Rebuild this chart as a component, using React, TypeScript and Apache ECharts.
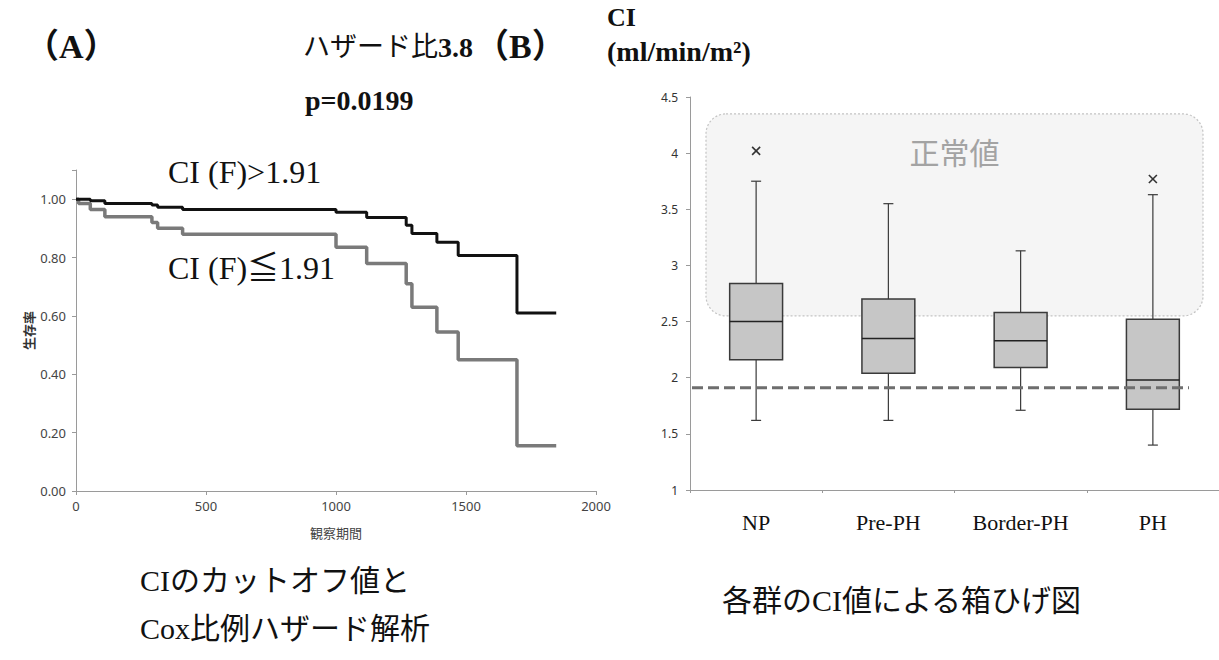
import { useEffect, useRef } from "react";
import * as echarts from "echarts";

// (A) Kaplan-Meier survival by CI cut-off
const timeTicks = [0, 500, 1000, 1500, 2000];
const highGroupTime = [0, 55, 111, 292, 314, 410, 1000, 1118, 1270, 1292, 1388, 1470, 1696, 1847];
const highGroupSurvival = [1.0, 0.995, 0.985, 0.98, 0.972, 0.965, 0.955, 0.937, 0.911, 0.882, 0.852, 0.807, 0.61, 0.61];
const lowGroupTime = [0, 10, 55, 111, 292, 314, 410, 1000, 1118, 1270, 1292, 1388, 1470, 1696, 1847];
const lowGroupSurvival = [1.0, 0.985, 0.965, 0.94, 0.92, 0.9, 0.88, 0.835, 0.78, 0.71, 0.63, 0.545, 0.45, 0.155, 0.155];

// (B) CI box plot by group
const groups = ["NP", "Pre-PH", "Border-PH", "PH"];
const whiskerLow = [1.62, 1.62, 1.71, 1.4];
const quartile1 = [2.16, 2.04, 2.09, 1.72];
const medians = [2.5, 2.35, 2.33, 1.98];
const quartile3 = [2.84, 2.7, 2.58, 2.52];
const whiskerHigh = [3.75, 3.55, 3.13, 3.63];
const outlierGroup = [0, 3];
const outlierValue = [4.02, 3.77];
const cutoff = 1.91;
const normalBand = [2.55, 4.35];
const ciTicks = [1, 1.5, 2, 2.5, 3, 3.5, 4, 4.5];

const GRID_A = { left: 76, top: 170, width: 520, height: 321 };
const GRID_B = { left: 690, top: 97, width: 529, height: 393 };

const SERIF = '"Liberation Serif", "Noto Sans CJK JP", serif';
const SANS = '"Noto Sans", "Noto Sans CJK JP", sans-serif';

export default function App() {
  const ref = useRef<HTMLDivElement>(null);

  useEffect(() => {
    if (!ref.current) return;
    const chart = echarts.init(ref.current, undefined, { renderer: "svg" });

    const highData = highGroupTime.map((t, i) => [t, highGroupSurvival[i]]);
    const lowData = lowGroupTime.map((t, i) => [t, lowGroupSurvival[i]]);
    const boxData = groups.map((_, i) => [i, whiskerLow[i], quartile1[i], medians[i], quartile3[i], whiskerHigh[i]]);
    const outlierData = outlierGroup.map((g, i) => [g, outlierValue[i]]);

    const axisGray = "#9a9a9a";
    const boxStroke = "#3a3a3a";

    chart.setOption({
      animation: false,
      backgroundColor: "#ffffff",
      grid: [
        { ...GRID_A, containLabel: false },
        { ...GRID_B, containLabel: false },
      ],
      xAxis: [
        {
          type: "value",
          gridIndex: 0,
          min: timeTicks[0],
          max: timeTicks[timeTicks.length - 1],
          interval: 500,
          axisLine: { show: true, lineStyle: { color: axisGray, width: 1 } },
          axisTick: { show: true, length: 4, lineStyle: { color: axisGray } },
          axisLabel: { color: "#444", fontSize: 13, fontFamily: SANS, margin: 8, formatter: (v: number) => String(v) },
          splitLine: { show: false },
          name: "観察期間",
          nameLocation: "middle",
          nameGap: 35,
          nameTextStyle: { color: "#444", fontSize: 13, fontFamily: SANS },
        },
        {
          type: "category",
          gridIndex: 1,
          data: groups,
          boundaryGap: true,
          axisLine: { show: true, lineStyle: { color: axisGray, width: 1 } },
          axisTick: { show: true, length: 3, lineStyle: { color: axisGray } },
          axisLabel: { color: "#111", fontSize: 22, fontFamily: SERIF, margin: 21 },
          splitLine: { show: false },
        },
      ],
      yAxis: [
        {
          type: "value",
          gridIndex: 0,
          min: 0,
          max: 1.1,
          interval: 0.2,
          axisLine: { show: true, lineStyle: { color: axisGray, width: 1 } },
          axisTick: { show: true, length: 4, lineStyle: { color: axisGray } },
          axisLabel: {
            color: "#444",
            fontSize: 13,
            fontFamily: SANS,
            margin: 10,
            formatter: (v: number) => (v > 1.001 ? "" : v.toFixed(2)),
          },
          splitLine: { show: false },
          name: "生存率",
          nameLocation: "middle",
          nameGap: 41,
          nameRotate: 90,
          nameTextStyle: { color: "#333", fontSize: 13, fontWeight: "bold", fontFamily: SANS },
        },
        {
          type: "value",
          gridIndex: 1,
          min: ciTicks[0],
          max: ciTicks[ciTicks.length - 1],
          interval: 0.5,
          axisLine: { show: true, lineStyle: { color: axisGray, width: 1 } },
          axisTick: { show: true, length: 4, lineStyle: { color: axisGray } },
          axisLabel: { color: "#333", fontSize: 12, fontFamily: SANS, margin: 12, formatter: (v: number) => String(v) },
          splitLine: { show: false },
        },
      ],
      series: [
        {
          name: "CI (F)>1.91",
          type: "line",
          xAxisIndex: 0,
          yAxisIndex: 0,
          step: "end",
          symbol: "none",
          data: highData,
          lineStyle: { color: "#111111", width: 3 },
          z: 4,
        },
        {
          name: "CI (F)≦1.91",
          type: "line",
          xAxisIndex: 0,
          yAxisIndex: 0,
          step: "end",
          symbol: "none",
          data: lowData,
          lineStyle: { color: "#7a7a7a", width: 3.5 },
          z: 3,
        },
        {
          name: "CI",
          type: "custom",
          xAxisIndex: 1,
          yAxisIndex: 1,
          data: boxData,
          encode: { x: 0, y: [1, 2, 3, 4, 5] },
          z: 3,
          renderItem: (_params: any, api: any) => {
            const idx = api.value(0);
            const bw = api.size([1, 0])[0] * 0.4;
            const cap = 5;
            const lo = api.coord([idx, api.value(1)]);
            const q1 = api.coord([idx, api.value(2)]);
            const md = api.coord([idx, api.value(3)]);
            const q3 = api.coord([idx, api.value(4)]);
            const hi = api.coord([idx, api.value(5)]);
            const cx = md[0];
            const ln = { stroke: boxStroke, lineWidth: 1.2 };
            return {
              type: "group",
              children: [
                { type: "line", shape: { x1: cx, y1: hi[1], x2: cx, y2: q3[1] }, style: ln },
                { type: "line", shape: { x1: cx, y1: q1[1], x2: cx, y2: lo[1] }, style: ln },
                { type: "line", shape: { x1: cx - cap, y1: hi[1], x2: cx + cap, y2: hi[1] }, style: ln },
                { type: "line", shape: { x1: cx - cap, y1: lo[1], x2: cx + cap, y2: lo[1] }, style: ln },
                {
                  type: "rect",
                  shape: { x: cx - bw / 2, y: q3[1], width: bw, height: q1[1] - q3[1] },
                  style: { fill: "#c6c6c6", stroke: boxStroke, lineWidth: 1.5 },
                },
                { type: "line", shape: { x1: cx - bw / 2, y1: md[1], x2: cx + bw / 2, y2: md[1] }, style: { stroke: "#222", lineWidth: 1.5 } },
              ],
            };
          },
        },
        {
          name: "外れ値",
          type: "custom",
          xAxisIndex: 1,
          yAxisIndex: 1,
          data: outlierData,
          encode: { x: 0, y: 1 },
          z: 4,
          renderItem: (_params: any, api: any) => {
            const p = api.coord([api.value(0), api.value(1)]);
            const s = 4;
            const st = { stroke: "#333", lineWidth: 1.6 };
            return {
              type: "group",
              children: [
                { type: "line", shape: { x1: p[0] - s, y1: p[1] - s, x2: p[0] + s, y2: p[1] + s }, style: st },
                { type: "line", shape: { x1: p[0] - s, y1: p[1] + s, x2: p[0] + s, y2: p[1] - s }, style: st },
              ],
            };
          },
        },
      ],
    });

    // Normal range panel behind the boxes and the cut-off line, placed from CI values
    const bandTop = chart.convertToPixel({ yAxisIndex: 1 }, normalBand[1]) as number;
    const bandBottom = chart.convertToPixel({ yAxisIndex: 1 }, normalBand[0]) as number;
    const cutoffY = chart.convertToPixel({ yAxisIndex: 1 }, cutoff) as number;
    const bandLeft = GRID_B.left + 16;
    const bandRight = GRID_B.left + GRID_B.width - 16;

    chart.setOption({
      graphic: [
        {
          type: "rect",
          z: 0,
          shape: { x: bandLeft, y: bandTop, width: bandRight - bandLeft, height: bandBottom - bandTop, r: 20 },
          style: { fill: "#f5f5f5", stroke: "#c4c4c4", lineWidth: 1.2, lineDash: [2, 2] },
        },
        {
          type: "text",
          z: 1,
          x: (bandLeft + bandRight) / 2,
          y: bandTop + 40,
          style: { text: "正常値", fill: "#a3a3a3", font: `30px ${SERIF}`, textAlign: "center", textVerticalAlign: "middle" },
        },
        {
          type: "line",
          z: 10,
          shape: { x1: GRID_B.left + 2, y1: cutoffY, x2: GRID_B.left + GRID_B.width - 30, y2: cutoffY },
          style: { stroke: "#6e6e6e", lineWidth: 3, lineDash: [11, 5] },
        },
        {
          type: "text",
          x: 25,
          y: 46,
          style: { text: "（A）", fill: "#111", font: `bold 34px ${SERIF}`, textVerticalAlign: "middle" },
        },
        {
          type: "text",
          x: 475,
          y: 46,
          style: { text: "（B）", fill: "#111", font: `bold 34px ${SERIF}`, textVerticalAlign: "middle" },
        },
        {
          type: "text",
          x: 303,
          y: 47,
          style: {
            text: "{a|ハザード比}{b|3.8}",
            textVerticalAlign: "middle",
            rich: {
              a: { fontSize: 27, fontFamily: SERIF, fill: "#111", color: "#111" },
              b: { fontSize: 28, fontWeight: "bold", fontFamily: SERIF, fill: "#111", color: "#111" },
            },
          },
        },
        {
          type: "text",
          x: 305,
          y: 100,
          style: { text: "p=0.0199", fill: "#111", font: `bold 28px ${SERIF}`, textVerticalAlign: "middle" },
        },
        {
          type: "text",
          x: 168,
          y: 172,
          style: { text: "CI (F)>1.91", fill: "#111", font: `32px ${SERIF}`, textVerticalAlign: "middle" },
        },
        {
          type: "text",
          x: 168,
          y: 268,
          style: { text: "CI (F)≦1.91", fill: "#111", font: `32px ${SERIF}`, textVerticalAlign: "middle" },
        },
        {
          type: "text",
          x: 607,
          y: 17,
          style: { text: "CI", fill: "#111", font: `bold 26px ${SERIF}`, textVerticalAlign: "middle" },
        },
        {
          type: "text",
          x: 607,
          y: 51,
          style: { text: "(ml/min/m²)", fill: "#111", font: `bold 28px ${SERIF}`, textVerticalAlign: "middle" },
        },
        {
          type: "text",
          x: 140,
          y: 580,
          style: { text: "CIのカットオフ値と", fill: "#111", font: `30px ${SERIF}`, textVerticalAlign: "middle" },
        },
        {
          type: "text",
          x: 140,
          y: 628,
          style: { text: "Cox比例ハザード解析", fill: "#111", font: `30px ${SERIF}`, textVerticalAlign: "middle" },
        },
        {
          type: "text",
          x: 722,
          y: 600,
          style: { text: "各群のCI値による箱ひげ図", fill: "#111", font: `30px ${SERIF}`, textVerticalAlign: "middle" },
        },
      ],
    });

    return () => chart.dispose();
  }, []);

  return (
    <div
      ref={ref}
      style={{ position: "absolute", left: 0, top: 0, width: 1219, height: 660, background: "#fff" }}
    />
  );
}
